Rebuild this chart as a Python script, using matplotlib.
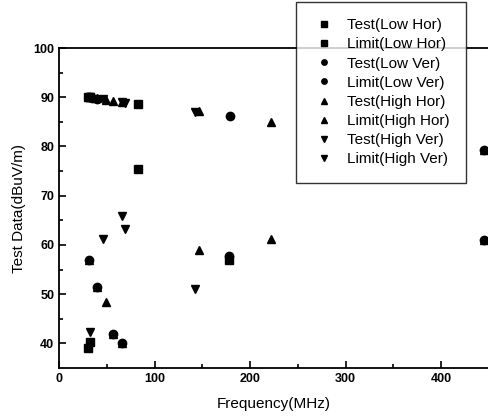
import numpy as np
import matplotlib
matplotlib.use('Agg')
import matplotlib.pyplot as plt

plt.rcParams['font.family'] = ['Liberation Sans', 'DejaVu Sans']

# test data (MHz, dBuV/m)
test_low_hor_f = [30, 32, 83, 178]
test_low_hor_v = [39.0, 40.3, 75.5, 57.0]
test_low_ver_f = [31, 40, 57, 66, 178, 445]
test_low_ver_v = [57.0, 51.5, 42.0, 40.0, 57.8, 61.0]
test_high_hor_f = [31, 40, 49, 57, 66, 147, 222, 445]
test_high_hor_v = [57.0, 51.5, 48.5, 42.0, 40.0, 59.0, 61.2, 61.0]
test_high_ver_f = [32, 46, 66, 69, 142]
test_high_ver_v = [42.3, 61.2, 65.8, 63.2, 51.0]

# limit data
limit_low_hor_f = [30, 32, 83]
limit_low_hor_v = [90.0, 90.0, 88.7]
limit_low_ver_f = [31, 35, 40, 179, 445]
limit_low_ver_v = [90.0, 89.9, 89.7, 86.2, 79.2]
limit_high_hor_f = [31, 40, 49, 57, 66, 147, 222, 445]
limit_high_hor_v = [90.0, 89.8, 89.5, 89.3, 89.0, 87.2, 85.0, 79.2]
limit_high_ver_f = [32, 46, 66, 69, 142]
limit_high_ver_v = [90.0, 89.6, 89.0, 88.8, 87.0]

fig = plt.figure(figsize=(4.89, 4.19), dpi=100)
ax = fig.add_axes([0.1207, 0.1217, 0.8793, 0.7637])

series = [
    (test_low_hor_f, test_low_hor_v, 's', 'Test(Low Hor)'),
    (limit_low_hor_f, limit_low_hor_v, 's', 'Limit(Low Hor)'),
    (test_low_ver_f, test_low_ver_v, 'o', 'Test(Low Ver)'),
    (limit_low_ver_f, limit_low_ver_v, 'o', 'Limit(Low Ver)'),
    (test_high_hor_f, test_high_hor_v, '^', 'Test(High Hor)'),
    (limit_high_hor_f, limit_high_hor_v, '^', 'Limit(High Hor)'),
    (test_high_ver_f, test_high_ver_v, 'v', 'Test(High Ver)'),
    (limit_high_ver_f, limit_high_ver_v, 'v', 'Limit(High Ver)'),
]
for f, v, m, lab in series:
    ax.plot(f, v, linestyle='none', marker=m, color='black', markersize=6, label=lab)

ax.set_xlim(0, 450)
ax.set_ylim(35, 100)
ax.set_xticks([0, 100, 200, 300, 400])
ax.set_xticks(np.arange(50, 451, 100), minor=True)
ax.set_yticks([40, 50, 60, 70, 80, 90, 100])
ax.set_yticks(np.arange(45, 100, 10), minor=True)
ax.tick_params(which='both', direction='in', width=1.2)
ax.tick_params(which='major', length=5, labelsize=9)
ax.tick_params(which='minor', length=3)
for t in ax.get_xticklabels() + ax.get_yticklabels():
    t.set_fontweight('bold')
for s in ax.spines.values():
    s.set_linewidth(1.3)

ax.set_xlabel('Frequency(MHz)', fontsize=11, labelpad=9)
ax.set_ylabel('Test Data(dBuV/m)', fontsize=11, labelpad=5)

leg = ax.legend(loc='upper right', bbox_to_anchor=(0.953, 0.995),
                bbox_transform=fig.transFigure, fontsize=11, markerscale=0.65,
                frameon=True, fancybox=False, edgecolor='black',
                labelspacing=0.34, handletextpad=0.8, borderpad=1.05,
                borderaxespad=0, handlelength=1.5)
leg.get_frame().set_linewidth(1.0)
leg.set_zorder(5)

fig.savefig('out.png', dpi=100)
